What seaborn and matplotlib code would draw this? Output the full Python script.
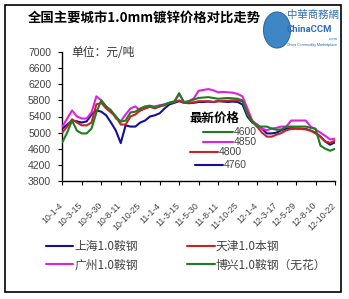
import numpy as np
import pandas as pd
import matplotlib
matplotlib.use("Agg")
import matplotlib.pyplot as plt
import matplotlib.transforms as mtrans
from matplotlib.patches import Rectangle, Ellipse
from matplotlib.lines import Line2D
import seaborn as sns

# ---------------- data ----------------
tick_labels = ["10-1-4", "10-3-15", "10-5-30", "10-8-11", "10-10-25",
               "11-1-4", "11-3-15", "11-5-30", "11-8-11", "11-10-25",
               "12-1-4", "12-3-17", "12-5-29", "12-8-10", "12-10-22"]

series_names = ["上海1.0鞍钢", "广州1.0鞍钢", "天津1.0本钢", "博兴1.0鞍钢（无花）"]

shanghai = [5100, 5200, 5300, 5280, 5250, 5280, 5450, 5550, 5520, 5430,
            5250, 5050, 4740, 5180, 5150, 5150, 5250, 5300, 5400, 5430,
            5480, 5600, 5700, 5740, 5780, 5740, 5730, 5740, 5760, 5760,
            5770, 5760, 5780, 5770, 5760, 5770, 5760, 5700, 5400, 5250,
            5200, 5100, 4980, 4980, 5000, 5060, 5100, 5110, 5100, 5100,
            5090, 5050, 5000, 4900, 4780, 4700, 4760]

tianjin = [5000, 5150, 5330, 5250, 5180, 5180, 5250, 5700, 5740, 5600,
           5500, 5400, 5200, 5200, 5400, 5450, 5550, 5600, 5640, 5600,
           5650, 5680, 5740, 5760, 5800, 5740, 5740, 5750, 5780, 5780,
           5780, 5760, 5780, 5790, 5790, 5800, 5800, 5780, 5500, 5280,
           5150, 5000, 4900, 4900, 4950, 4990, 5060, 5090, 5100, 5090,
           5080, 5050, 4980, 4900, 4780, 4750, 4800]

guangzhou = [5150, 5350, 5550, 5400, 5350, 5350, 5500, 5900, 5800, 5650,
             5550, 5350, 5280, 5450, 5600, 5650, 5550, 5600, 5650, 5650,
             5680, 5700, 5740, 5780, 5950, 5760, 5780, 5850, 6040, 6060,
             6080, 6050, 6000, 6010, 6000, 5990, 5960, 5900, 5600, 5300,
             5200, 5100, 5060, 5100, 5120, 5150, 5150, 5300, 5300, 5300,
             5300, 5150, 5080, 5000, 4920, 4830, 4850]

boxing = [4760, 5000, 5300, 5050, 4980, 4980, 5100, 5500, 5800, 5650,
          5550, 5400, 5270, 5300, 5500, 5520, 5600, 5650, 5670, 5620,
          5650, 5700, 5740, 5760, 5980, 5740, 5780, 5820, 5860, 5870,
          5880, 5860, 5840, 5850, 5860, 5850, 5840, 5800, 5450, 5270,
          5150, 5150, 5150, 5100, 5070, 5080, 5150, 5150, 5150, 5150,
          5150, 5120, 5100, 4680, 4600, 4550, 4600]

y_ticks = [3800, 4200, 4600, 5000, 5400, 5800, 6200, 6600, 7000]

# ---------------- style ----------------
sns.set_style("white")
plt.rcParams["font.family"] = ["Noto Sans CJK SC", "DejaVu Sans"]

colors = {
    "上海1.0鞍钢": "#10109a",
    "广州1.0鞍钢": "#e020e0",
    "天津1.0本钢": "#cc2222",
    "博兴1.0鞍钢（无花）": "#1e7d1e",
}

n = len(shanghai)
pos = np.linspace(0, len(tick_labels) - 1, n)
values = {
    "上海1.0鞍钢": shanghai,
    "广州1.0鞍钢": guangzhou,
    "天津1.0本钢": tianjin,
    "博兴1.0鞍钢（无花）": boxing,
}
df = pd.concat([pd.DataFrame({"pos": pos, "price": values[k], "city": k})
                for k in series_names], ignore_index=True)

W, H = 349, 299
fig = plt.figure(figsize=(W / 100, H / 100), dpi=100)
fig.patch.set_facecolor("white")


def fx(px):
    return px / W


def fy(py):
    return 1 - py / H


ax = fig.add_axes([fx(62.3), fy(181), fx(335) - fx(62.3), fy(52) - fy(181)])
ax.set_facecolor("white")

sns.lineplot(data=df, x="pos", y="price", hue="city",
             hue_order=["上海1.0鞍钢", "广州1.0鞍钢", "天津1.0本钢", "博兴1.0鞍钢（无花）"],
             palette=colors, linewidth=1.5, legend=False, ax=ax, zorder=3)

ax.set_xlim(0, len(tick_labels) - 1)
ax.set_ylim(3800, 7000)
ax.set_xlabel("")
ax.set_ylabel("")
for s in ["top", "right"]:
    ax.spines[s].set_visible(False)
for s in ["left", "bottom"]:
    ax.spines[s].set_color("black")
    ax.spines[s].set_linewidth(1.0)

ax.set_yticks(y_ticks)
ax.set_yticklabels([str(v) for v in y_ticks], fontfamily="Liberation Sans",
                   fontsize=7.5, color="#444444")
ax.tick_params(axis="y", direction="out", length=3, width=0.8, pad=5,
               colors="black", labelcolor="#444444", left=True)

ax.set_xticks(range(len(tick_labels)))
ax.set_xticklabels(tick_labels, rotation=45, ha="right", va="top",
                   rotation_mode="anchor", fontfamily="Liberation Sans",
                   fontsize=6.3, color="#444444")
ax.tick_params(axis="x", direction="out", length=3, width=0.8, pad=2,
               colors="black", labelcolor="#444444", bottom=True)
offset = mtrans.ScaledTranslation(-4 / 100, -13 / 100, fig.dpi_scale_trans)
for lab in ax.get_xticklabels():
    lab.set_transform(lab.get_transform() + offset)

# ---------------- texts ----------------
fig.text(fx(28), fy(18), "全国主要城市1.0mm镀锌价格对比走势", fontsize=9.6,
         fontweight="bold", color="black", ha="left", va="center")
fig.text(fx(71), fy(52), "单位：元/吨", fontsize=8.5, color="#333333",
         ha="left", va="center")

# logo
fig.patches.append(Ellipse((fx(277), fy(30)), fx(27) - fx(0), fy(0) - fy(36),
                           transform=fig.transFigure, facecolor="#3f86c6",
                           edgecolor="#2a6aa8", linewidth=0.8))
fig.text(fx(287), fy(15), "中華商務網", fontsize=7.5, color="#2f6db5",
         ha="left", va="center", family=["Noto Sans CJK TC", "DejaVu Sans"])
fig.text(fx(287), fy(30), "ChinaCCM", fontsize=6.8, fontweight="bold",
         color="#2f6db5", ha="left", va="center", family="Roboto")
fig.text(fx(329), fy(39), ".com", fontsize=3.0, color="#2f6db5",
         ha="left", va="center", family="Roboto")
fig.text(fx(287), fy(45), "China Commodity Marketplace", fontsize=2.6,
         color="#2f6db5", ha="left", va="center", family="Roboto")

# latest price box
fig.text(fx(190), fy(118), "最新价格", fontsize=9, fontweight="bold",
         color="black", ha="left", va="center", zorder=5)
latest = [("博兴1.0鞍钢（无花）", boxing[-1], 203, 233, 132),
          ("广州1.0鞍钢", guangzhou[-1], 203, 233, 141.7),
          ("天津1.0本钢", tianjin[-1], 190, 218, 151.7),
          ("上海1.0鞍钢", shanghai[-1], 195, 223, 165)]
for name, val, x0, x1, yy in latest:
    fig.add_artist(Line2D([fx(x0), fx(x1)], [fy(yy), fy(yy)],
                          transform=fig.transFigure, color=colors[name],
                          linewidth=1.5, zorder=5))
    fig.text(fx(x1 + 1), fy(yy), f"{val}", fontsize=7.5, color="#444444",
             ha="left", va="center", family="Liberation Sans", zorder=5)

# legend
handles = [Line2D([0], [0], color=colors[k], linewidth=1.5) for k in series_names]
fig.legend(handles, series_names, loc="upper left",
           bbox_to_anchor=(fx(46), fy(240)), ncol=2, frameon=False,
           fontsize=8.5, handlelength=2.3, handletextpad=0.1,
           columnspacing=4.2, labelspacing=0.45, borderpad=0,
           borderaxespad=0, labelcolor="#444444")

# outer border
fig.patches.append(Rectangle((fx(5), fy(292)), fx(341) - fx(5), fy(5) - fy(292),
                             transform=fig.transFigure, fill=False,
                             edgecolor="black", linewidth=1.2))

fig.savefig("out.png", dpi=100)
